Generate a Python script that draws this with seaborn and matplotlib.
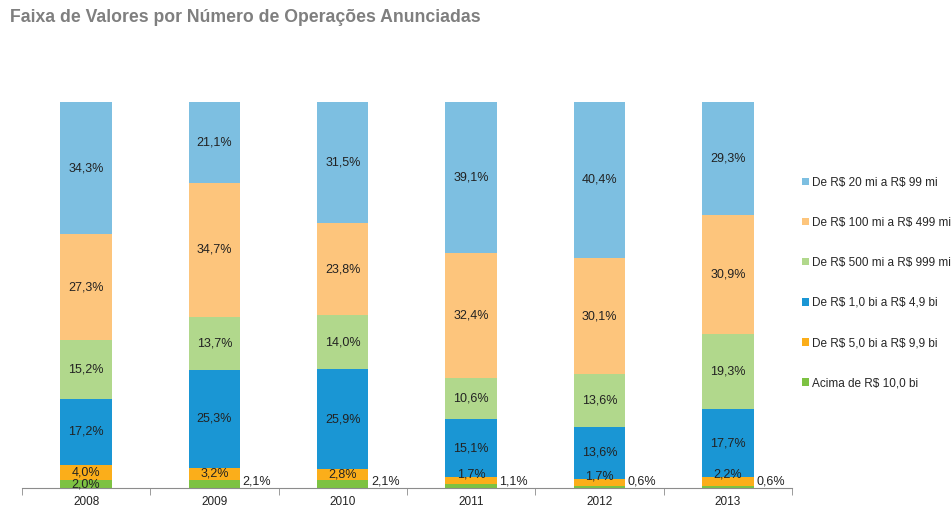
import numpy as np
import pandas as pd
import matplotlib.pyplot as plt
import seaborn as sns
from matplotlib.patches import Patch

# Data (percent of announced operations by value range)
years = ["2008", "2009", "2010", "2011", "2012", "2013"]
acima_10bi = [2.0, 2.1, 2.1, 1.1, 0.6, 0.6]
de_5_a_9_9bi = [4.0, 3.2, 2.8, 1.7, 1.7, 2.2]
de_1_a_4_9bi = [17.2, 25.3, 25.9, 15.1, 13.6, 17.7]
de_500_a_999mi = [15.2, 13.7, 14.0, 10.6, 13.6, 19.3]
de_100_a_499mi = [27.3, 34.7, 23.8, 32.4, 30.1, 30.9]
de_20_a_99mi = [34.3, 21.1, 31.5, 39.1, 40.4, 29.3]

# bottom -> top
series_names = [
    "Acima de R$ 10,0 bi",
    "De R$ 5,0 bi a R$ 9,9 bi",
    "De R$ 1,0 bi a R$ 4,9 bi",
    "De R$ 500 mi a R$ 999 mi",
    "De R$ 100 mi a R$ 499 mi",
    "De R$ 20 mi a R$ 99 mi",
]
series_values = [acima_10bi, de_5_a_9_9bi, de_1_a_4_9bi,
                 de_500_a_999mi, de_100_a_499mi, de_20_a_99mi]
colors = ["#7DC242", "#FBAE1A", "#1A96D4", "#B1D88C", "#FDC57C", "#7DBFE1"]

sns.set_style("white")
plt.rcParams['font.family'] = ['Liberation Sans', 'DejaVu Sans']

vals = np.array(series_values)
cum = np.cumsum(vals, axis=0)
df = pd.DataFrame(cum.T, columns=[f"s{i}" for i in range(len(series_names))])
df["Ano"] = years

fig = plt.figure(figsize=(9.52, 5.09), dpi=100)
ax = fig.add_axes([0.023, 0.041, 0.809, 0.759])

# overlay cumulative bars, tallest first
for i in range(len(series_names) - 1, -1, -1):
    sns.barplot(data=df, x="Ano", y=f"s{i}", color=colors[i],
                saturation=1, width=0.4, linewidth=0, ax=ax)

# value labels
for i in range(len(series_names)):
    for j in range(len(years)):
        v = vals[i, j]
        txt = f"{v:.1f}%".replace(".", ",")
        if i == 0 and j > 0:
            # small bottom values go beside the bar
            ax.text(j + 0.22, 1.8, txt, ha="left", va="center",
                    fontsize=9, color="#222222")
        elif i == 1 and cum[i, j] < 3:
            # thin segment: nudge label above
            ax.text(j, cum[i, j] + 0.8, txt, ha="center", va="center",
                    fontsize=9, color="#222222")
        else:
            ax.text(j, cum[i, j] - v / 2, txt, ha="center", va="center",
                    fontsize=9, color="#222222")

ax.set_ylim(0, 100)
ax.set_xlim(-0.5, len(years) - 0.5)
ax.set_xlabel("")
ax.set_ylabel("")
ax.set_yticks([])
for s in ["top", "right", "left"]:
    ax.spines[s].set_visible(False)
ax.spines["bottom"].set_color("#8c8c8c")
ax.set_xticks(np.arange(-0.5, len(years)), minor=True)
ax.tick_params(axis="x", which="major", length=0, labelsize=8.5, pad=6,
               labelcolor="#222222")
ax.tick_params(axis="x", which="minor", length=5, color="#8c8c8c",
               bottom=True, direction="out")

fig.text(0.011, 0.966, "Faixa de Valores por Número de Operações Anunciadas",
         fontsize=12.7, fontweight="bold", color="#7f7f7f", va="center")

handles = [Patch(facecolor=colors[i], edgecolor="none",
                 label=series_names[i].replace("$", r"\$"))
           for i in range(len(series_names) - 1, -1, -1)]
fig.legend(handles=handles, loc="upper left", bbox_to_anchor=(0.842, 0.653),
           frameon=False, fontsize=8.5, handlelength=0.6, handleheight=0.6,
           handletextpad=0.3, labelspacing=2.38, borderpad=0, borderaxespad=0)

fig.savefig("out.png", dpi=100)
